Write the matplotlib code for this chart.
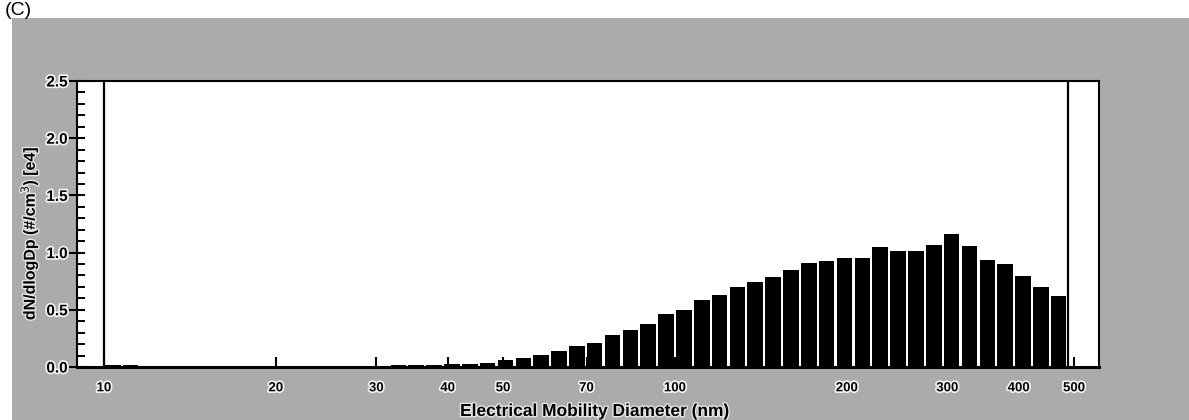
import matplotlib
matplotlib.use("Agg")
import matplotlib.pyplot as plt
import matplotlib.patches as patches
import matplotlib.patheffects as pe
from matplotlib.ticker import FixedLocator, MultipleLocator, NullLocator

plt.rcParams["font.family"] = ["Liberation Sans", "DejaVu Sans"]

# SMPS channel midpoints (nm), 32 channels per decade
diameters = [
    10.37, 11.14, 11.97, 12.86, 13.82, 14.85, 15.96, 17.15, 18.43, 19.81,
    21.29, 22.88, 24.58, 26.42, 28.39, 30.51, 32.78, 35.23, 37.86, 40.68,
    43.72, 46.98, 50.48, 54.25, 58.29, 62.64, 67.32, 72.34, 77.73, 83.53,
    89.76, 96.47, 103.7, 111.4, 119.7, 128.6, 138.2, 148.5, 159.6, 171.5,
    184.3, 198.1, 212.9, 228.8, 245.8, 264.2, 283.9, 305.1, 327.8, 352.3,
    378.6, 406.8, 437.2, 469.8,
]
# dN/dlogDp in units of 1e4 #/cm3
conc = [
    0.02, 0.02, 0.01, 0.01, 0.005, 0.005, 0.005, 0.005, 0.005, 0.005,
    0.005, 0.005, 0.005, 0.01, 0.01, 0.01, 0.02, 0.02, 0.02, 0.028,
    0.028, 0.033, 0.06, 0.077, 0.106, 0.142, 0.18, 0.214, 0.276, 0.32,
    0.377, 0.459, 0.494, 0.584, 0.631, 0.699, 0.745, 0.788, 0.847, 0.912,
    0.929, 0.956, 0.956, 1.045, 1.017, 1.017, 1.065, 1.159, 1.060, 0.932,
    0.897, 0.799, 0.697, 0.621,
]
lower_limit = 10.0
upper_limit = 487.0

xtick_vals = [10, 20, 30, 40, 50, 70, 100, 200, 300, 400, 500]
xtick_labels = ["10", "20", "30", "40", "50", "70", "100", "200", "300", "400", "500"]
ytick_vals = [0.0, 0.5, 1.0, 1.5, 2.0, 2.5]
ytick_labels = ["0.0", "0.5", "1.0", "1.5", "2.0", "2.5"]

W, H = 1189, 420
fig = plt.figure(figsize=(W / 100, H / 100), dpi=100)
fig.patch.set_facecolor("white")

# grey window background
fig.add_artist(
    patches.Rectangle(
        (12 / W, 0), 1 - 12 / W, 1 - 18 / H,
        transform=fig.transFigure, facecolor="#ababab", edgecolor="none", zorder=-5,
    )
)

ax = fig.add_axes([77 / W, 1 - 367 / H, (1099 - 77) / W, (367 - 81) / H])
ax.set_facecolor("white")

half = 10 ** (0.435 / 32)
lefts = [d / half for d in diameters]
widths = [d * half - d / half for d in diameters]
ax.bar(lefts, conc, width=widths, align="edge", color="black", edgecolor="none", zorder=2)

ax.axvline(lower_limit, color="black", lw=1.6, zorder=3)
ax.axvline(upper_limit, color="black", lw=1.6, zorder=3)

ax.set_xscale("log")
ax.set_xlim(8.97, 552.8)
ax.set_ylim(0, 2.5)

halo = [pe.withStroke(linewidth=2.5, foreground="#f2f2f2")]

ax.xaxis.set_major_locator(FixedLocator(xtick_vals))
ax.xaxis.set_minor_locator(NullLocator())
ax.set_xticklabels(xtick_labels, fontsize=9.5, fontweight="bold")
ax.tick_params(axis="x", which="major", direction="in", length=7, width=1.5, pad=11)

ax.set_yticks(ytick_vals)
ax.set_yticklabels(ytick_labels, fontsize=11, fontweight="bold")
ax.yaxis.set_minor_locator(MultipleLocator(0.1))
ax.tick_params(axis="y", which="major", direction="inout", length=11.5, width=1.5, pad=1)
ax.tick_params(axis="y", which="minor", direction="in", length=5.8, width=1.4)

for lab in ax.get_xticklabels() + ax.get_yticklabels():
    lab.set_path_effects(halo)

for side in ["left", "top", "right"]:
    ax.spines[side].set_linewidth(1.5)
ax.spines["bottom"].set_linewidth(2.2)

fig.text(
    29 / W, 1 - 233 / H, "dN/dlogDp (#/cm$^3$) [e4]",
    rotation=90, ha="center", va="center", fontsize=11.5, fontweight="bold",
    path_effects=[pe.withStroke(linewidth=2, foreground="#e6e6e6")],
)
fig.text(
    595 / W, 1 - 416 / H, "Electrical Mobility Diameter (nm)",
    ha="center", va="baseline", fontsize=12.5, fontweight="bold",
    path_effects=[pe.withStroke(linewidth=2, foreground="#e6e6e6")],
)
fig.text(5 / W, 1 - 15 / H, "(C)", ha="left", va="baseline", fontsize=14)

fig.savefig("out.png", dpi=100)
print("Saved out.png")
